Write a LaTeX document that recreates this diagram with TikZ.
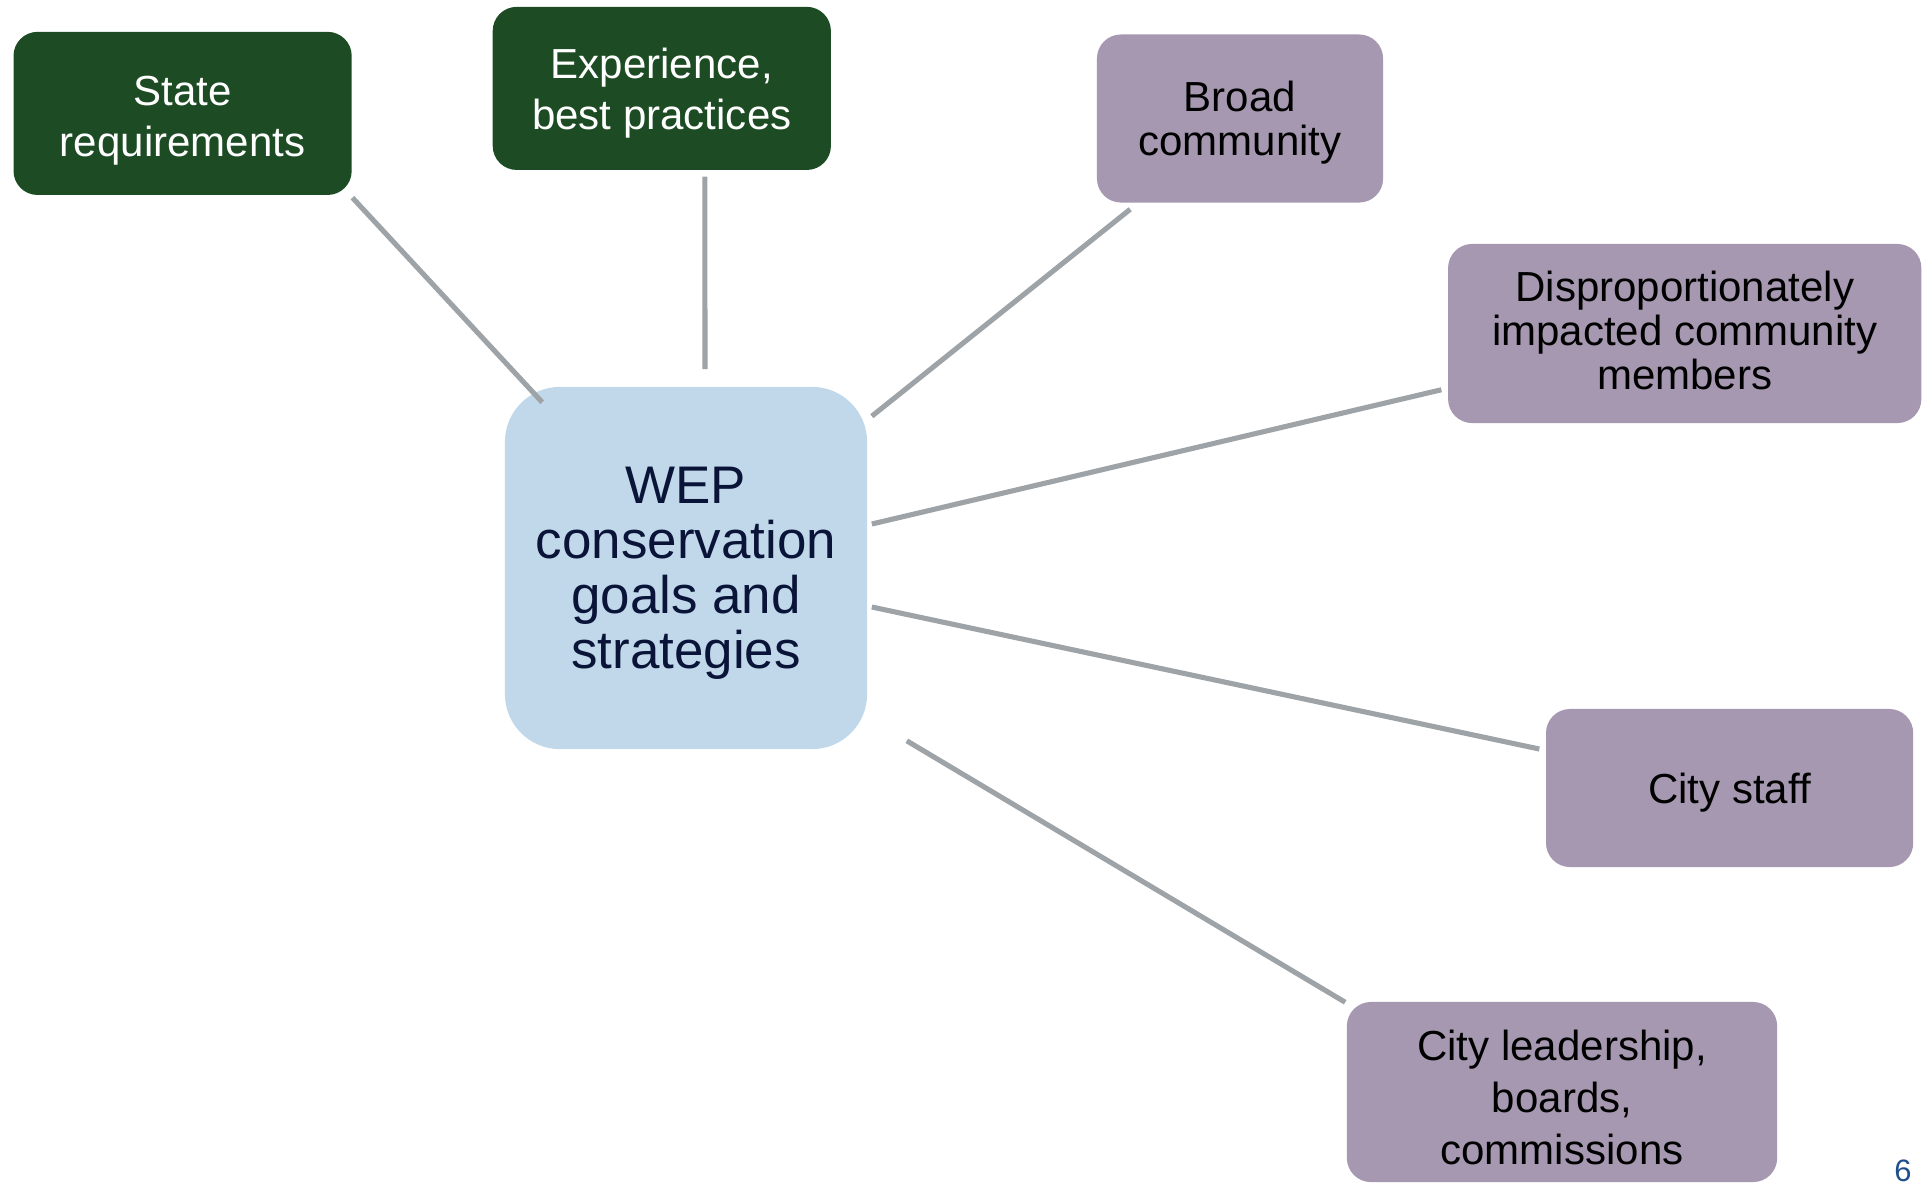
\documentclass[tikz,border=0pt]{standalone}
\usepackage{fontspec}
\setmainfont{Liberation Sans}
\definecolor{inputgreen}{RGB}{29,76,36}
\definecolor{groupmauve}{RGB}{165,152,176}
\definecolor{goalblue}{RGB}{192,216,234}
\definecolor{goalnavy}{RGB}{10,20,56}
\definecolor{linkgrey}{RGB}{158,163,167}
\definecolor{pageblue}{RGB}{31,78,140}
\tikzset{
inputbox/.style={rectangle, rounded corners=0.24cm, fill=inputgreen, text=white, inner sep=0pt, align=center, text depth=0pt, font=\fontsize{11.95}{14.5}\selectfont},
groupbox/.style={rectangle, rounded corners=0.24cm, fill=groupmauve, text=black, inner sep=0pt, align=center, text depth=0pt, font=\fontsize{11.95}{12.5}\selectfont},
goalbox/.style={rectangle, rounded corners=0.55cm, fill=goalblue, text=goalnavy, inner sep=0pt, align=center, text depth=0pt, font=\fontsize{15.05}{15.65}\selectfont},
link/.style={draw=linkgrey, line width=1.45pt},
}

\begin{document}
\begin{tikzpicture}[x=0.01cm, y=-0.01cm]
    \useasboundingbox (0,0) rectangle (1928,1184);

    %centre
    \node[goalbox, minimum width=3.62cm, minimum height=3.62cm] (hub) at (686,568) {WEP\\conservation\\goals and\\strategies};

    %inputs
    \node[inputbox, minimum width=3.38cm, minimum height=1.63cm] (state) at (182.6,113.4) {State\rule{0pt}{10.2pt}\\requirements};
    \node[inputbox, minimum width=3.38cm, minimum height=1.63cm] (exper) at (661.8,88.4) {Experience,\\best practices};

    %groups
    \node[groupbox, minimum width=2.86cm, minimum height=1.68cm] (broad) at (1240,118.5) {Broad\\community};
    \node[groupbox, minimum width=4.73cm, minimum height=1.79cm, text depth=2pt] (dispro) at (1684.7,333.5) {Disproportionately\\impacted community\\members};
    \node[groupbox, minimum width=3.67cm, minimum height=1.58cm] (staff) at (1729.6,788) {City staff};
    \node[groupbox, minimum width=4.30cm, minimum height=1.80cm, font=\fontsize{11.95}{14.8}\selectfont] (lead) at (1562,1092) {City leadership,\rule{0pt}{11.4pt}\\boards,\\commissions};

    %links
    \draw[link] ([shift={(0,2)}]state.south east) -- ([shift={(38,16)}]hub.north west);
    \draw[link] ([shift={(43,6)}]exper.south) -- ([shift={(19,-17)}]hub.north);
    \draw[link] ([shift={(34,6)}]broad.south west) -- ([shift={(4,30)}]hub.north east);
    \draw[link] ([shift={(-6,-34)}]dispro.south west) -- ([shift={(4,-44)}]hub.east);
    \draw[link] ([shift={(-6,-39)}]staff.west) -- ([shift={(4,39)}]hub.east);
    \draw[link] ([shift={(-1,1)}]lead.north west) -- ([shift={(39,-9)}]hub.south east);

    %page number
    \node[anchor=base, text=pageblue, inner sep=0pt, font=\fontsize{8.8}{10}\selectfont] (page) at (1903,1181) {6};
\end{tikzpicture}
\end{document}
